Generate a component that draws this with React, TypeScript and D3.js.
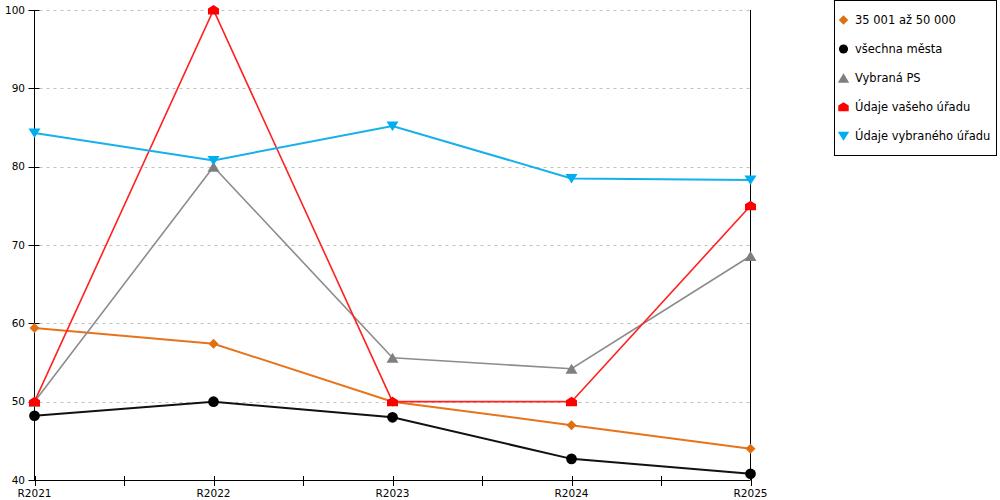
import { useEffect, useRef } from "react";
import * as d3 from "d3";

const categories = ["R2021", "R2022", "R2023", "R2024", "R2025"];
const yTicks = [40, 50, 60, 70, 80, 90, 100];

const seriesNames = [
  "35 001 až 50 000",
  "všechna města",
  "Vybraná PS",
  "Údaje vašeho úřadu",
  "Údaje vybraného úřadu",
];
const orangeValues = [59.4, 57.4, 50.0, 47.0, 44.0];
const blackValues = [48.2, 50.0, 48.0, 42.7, 40.8];
const grayValues = [50.0, 80.0, 55.6, 54.2, 68.6];
const redValues = [50.0, 100.0, 50.0, 50.0, 75.0];
const blueValues = [84.3, 80.8, 85.2, 78.5, 78.3];

const seriesColors = ["#e8731a", "#111111", "#8c8c8c", "#ff2020", "#14b1ec"];
const seriesWidths = [2, 2, 1.6, 1.6, 2];
const markerColors = ["#e0700f", "#000000", "#7f7f7f", "#ff0000", "#00aeef"];
const markerKinds = ["diamond", "circle", "up", "house", "down"];

function markerPath(kind: string): string {
  switch (kind) {
    case "diamond":
      return "M0,-5L5,0L0,5L-5,0Z";
    case "circle":
      return d3.symbol(d3.symbolCircle, 90)() ?? "";
    case "up":
      return "M0,-5L6,5L-6,5Z";
    case "house":
      return "M0,-5L5.5,-1.5L5.5,4.5L-5.5,4.5L-5.5,-1.5Z";
    case "down":
      return "M-6,-4.5L6,-4.5L0,5Z";
    default:
      return "";
  }
}

export default function App() {
  const svgRef = useRef<SVGSVGElement>(null);

  useEffect(() => {
    document.body.style.margin = "0";
    if (!svgRef.current) return;
    const svg = d3.select(svgRef.current);
    svg.selectAll("*").remove();

    const left = 34.5;
    const right = 750.5;
    const top = 10;
    const bottom = 480;

    const x = d3.scalePoint<string>().domain(categories).range([left, right]);
    const y = d3.scaleLinear().domain([40, 100]).range([bottom, top]);

    // grid
    svg
      .append("g")
      .selectAll("line")
      .data(yTicks.slice(1))
      .enter()
      .append("line")
      .attr("x1", left + 5)
      .attr("x2", right)
      .attr("y1", (d) => Math.round(y(d)) + 0.5)
      .attr("y2", (d) => Math.round(y(d)) + 0.5)
      .attr("stroke", "#c0c0c0")
      .attr("stroke-dasharray", "3,4");

    // right border line
    svg
      .append("line")
      .attr("x1", right)
      .attr("x2", right)
      .attr("y1", top)
      .attr("y2", bottom)
      .attr("stroke", "#000");

    // y axis
    const yAxis = svg.append("g").attr("font-family", "DejaVu Sans");
    yAxis
      .append("line")
      .attr("x1", left)
      .attr("x2", left)
      .attr("y1", top)
      .attr("y2", bottom)
      .attr("stroke", "#000");
    yAxis
      .selectAll("line.tick")
      .data(yTicks)
      .enter()
      .append("line")
      .attr("class", "tick")
      .attr("x1", left - 6)
      .attr("x2", left + 5)
      .attr("y1", (d) => Math.round(y(d)) + 0.5)
      .attr("y2", (d) => Math.round(y(d)) + 0.5)
      .attr("stroke", "#000");
    yAxis
      .selectAll("text")
      .data(yTicks)
      .enter()
      .append("text")
      .attr("x", 25)
      .attr("y", (d) => y(d))
      .attr("dy", "0.35em")
      .attr("text-anchor", "end")
      .attr("font-size", 10.5)
      .attr("fill", "#000")
      .text((d) => d);

    // x axis
    const xAxis = svg.append("g").attr("font-family", "DejaVu Sans");
    xAxis
      .append("line")
      .attr("x1", left)
      .attr("x2", right)
      .attr("y1", bottom + 0.5)
      .attr("y2", bottom + 0.5)
      .attr("stroke", "#000");
    const step = x.step();
    const tickXs: number[] = [];
    categories.forEach((c, i) => {
      tickXs.push(x(c) ?? 0);
      if (i < categories.length - 1) tickXs.push((x(c) ?? 0) + step / 2);
    });
    xAxis
      .selectAll("line.tick")
      .data(tickXs)
      .enter()
      .append("line")
      .attr("class", "tick")
      .attr("x1", (d) => Math.round(d) + 0.5)
      .attr("x2", (d) => Math.round(d) + 0.5)
      .attr("y1", bottom - 4)
      .attr("y2", bottom + 6)
      .attr("stroke", "#000");
    xAxis
      .selectAll("text")
      .data(categories)
      .enter()
      .append("text")
      .attr("x", (d) => x(d) ?? 0)
      .attr("y", 497)
      .attr("text-anchor", "middle")
      .attr("font-size", 10.5)
      .attr("fill", "#000")
      .text((d) => d);

    // series
    const allValues = [orangeValues, blackValues, grayValues, redValues, blueValues];
    const line = d3
      .line<number>()
      .x((_, i) => x(categories[i]) ?? 0)
      .y((d) => y(d));

    allValues.forEach((vals, s) => {
      svg
        .append("path")
        .attr("d", line(vals) ?? "")
        .attr("fill", "none")
        .attr("stroke", seriesColors[s])
        .attr("stroke-width", seriesWidths[s]);
    });
    allValues.forEach((vals, s) => {
      svg
        .append("g")
        .selectAll("path")
        .data(vals)
        .enter()
        .append("path")
        .attr("d", markerPath(markerKinds[s]))
        .attr("transform", (d, i) => `translate(${x(categories[i])},${y(d)})`)
        .attr("fill", markerColors[s]);
    });

    // legend
    const legend = svg.append("g").attr("font-family", "DejaVu Sans");
    legend
      .append("rect")
      .attr("x", 834.5)
      .attr("y", 0.5)
      .attr("width", 162)
      .attr("height", 155)
      .attr("fill", "#fff")
      .attr("stroke", "#000");
    seriesNames.forEach((name, s) => {
      const cy = 20 + s * 29;
      legend
        .append("path")
        .attr("d", markerPath(markerKinds[s]))
        .attr("transform", `translate(843.5,${cy}) scale(${s === 1 ? 0.85 : 0.95})`)
        .attr("fill", markerColors[s]);
      legend
        .append("text")
        .attr("x", 855)
        .attr("y", cy)
        .attr("dy", "0.35em")
        .attr("font-size", 11.5)
        .attr("fill", "#000")
        .text(name);
    });
  }, []);

  return <svg ref={svgRef} width={1000} height={500} style={{ display: "block" }} />;
}
